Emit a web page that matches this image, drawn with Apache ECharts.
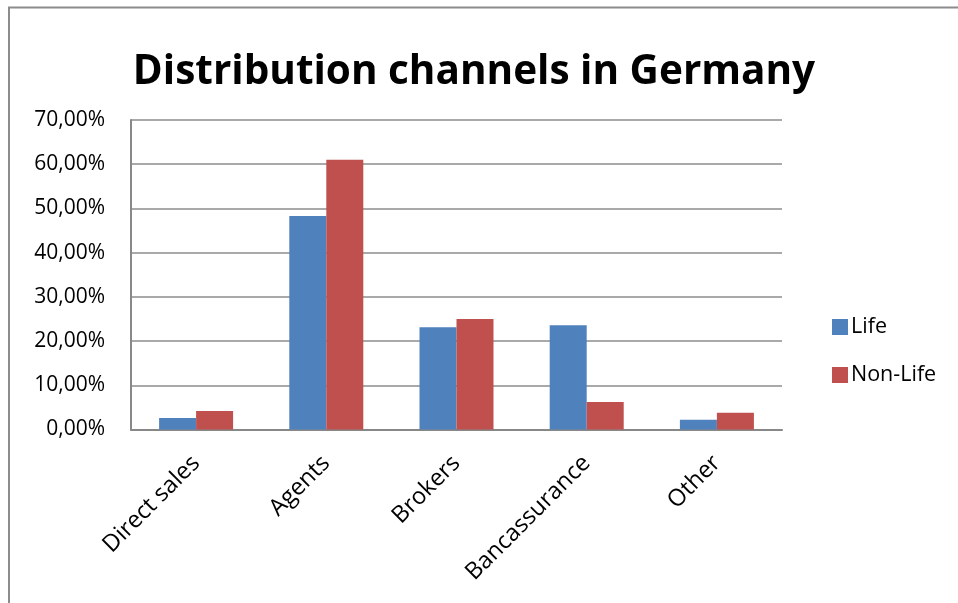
<!DOCTYPE html>
<html>
<head>
<meta charset="utf-8">
<script src="https://cdn.jsdelivr.net/npm/echarts@6/dist/echarts.min.js"></script>
<style>
html,body{margin:0;padding:0;background:#fff;}
#c{width:958px;height:603px;}
</style>
</head>
<body>
<div id="c"></div>
<script>
const categories = ['Direct sales', 'Agents', 'Brokers', 'Bancassurance', 'Other'];
const lifeValues = [2.6, 48.3, 23.1, 23.6, 2.2];
const nonLifeValues = [4.2, 61.0, 25.0, 6.2, 3.8];
const yTicks = [0, 10, 20, 30, 40, 50, 60, 70];

const chart = echarts.init(document.getElementById('c'));
chart.setOption({
  backgroundColor: '#fff',
  animation: false,
  title: {
    text: 'Distribution channels in Germany',
    left: 474,
    textAlign: 'center',
    top: 47,
    textStyle: { fontFamily: 'Open Sans', fontWeight: 'bold', fontSize: 40.5, color: '#000' }
  },
  graphic: [
    { type: 'rect', shape: { x: 9, y: 7.5, width: 1000, height: 700 },
      style: { fill: 'none', stroke: '#8c8c8c', lineWidth: 2 } }
  ],
  legend: {
    orient: 'vertical',
    left: 827,
    top: 311,
    itemWidth: 16,
    itemHeight: 16,
    itemGap: 26,
    icon: 'rect',
    textStyle: { fontFamily: 'Open Sans', fontSize: 21.5, lineHeight: 22, color: '#000', padding: [0, 0, 0, -2] },
    data: ['Life', 'Non-Life']
  },
  grid: { left: 131, right: 176, top: 120, bottom: 173.5, containLabel: false },
  xAxis: {
    type: 'category',
    data: categories,
    axisLine: { lineStyle: { color: '#888', width: 2 } },
    axisTick: { show: false },
    axisLabel: { rotate: 45, fontFamily: 'Open Sans', fontSize: 23.5, color: '#000', margin: 30, interval: 0 }
  },
  yAxis: {
    type: 'value',
    min: yTicks[0],
    max: yTicks[yTicks.length - 1],
    interval: 10,
    axisLine: { show: true, lineStyle: { color: '#888', width: 2 } },
    axisTick: { show: false },
    splitLine: { lineStyle: { color: '#8c8c8c', width: 1.5 } },
    axisLabel: {
      fontFamily: 'Open Sans', fontSize: 21, color: '#000', margin: 26,
      formatter: v => v.toFixed(2).replace('.', ',') + '%'
    }
  },
  series: [
    { name: 'Life', type: 'bar', data: lifeValues, barWidth: 37, barGap: '0%',
      itemStyle: { color: '#4F81BD' } },
    { name: 'Non-Life', type: 'bar', data: nonLifeValues, barWidth: 37,
      itemStyle: { color: '#C0504D' } }
  ]
});
chart.setOption({ title: { left: 469 } });
</script>
</body>
</html>
